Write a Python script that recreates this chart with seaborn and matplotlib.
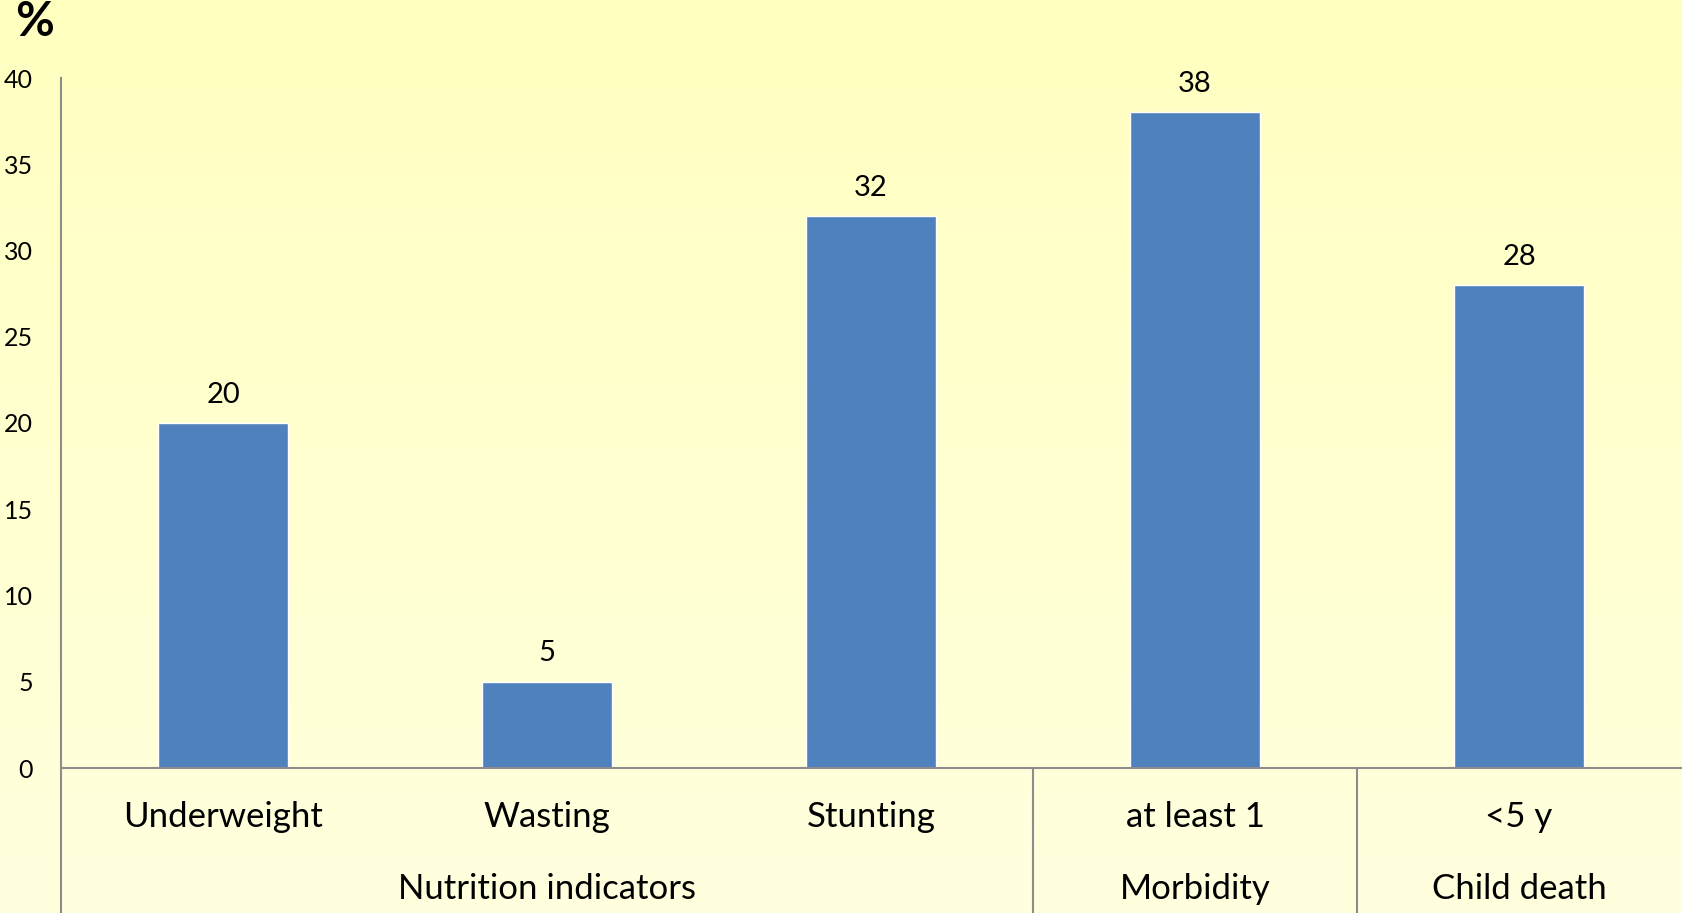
import numpy as np
import pandas as pd
import matplotlib
matplotlib.use("Agg")
import matplotlib.pyplot as plt
import seaborn as sns
from matplotlib.colors import LinearSegmentedColormap

# Survey results (%)
categories = ["Underweight", "Wasting", "Stunting", "at least 1", "<5 y"]
values = [20, 5, 32, 38, 28]
groups = ["Nutrition indicators", "Nutrition indicators", "Nutrition indicators",
          "Morbidity", "Child death"]
group_names = ["Nutrition indicators", "Morbidity", "Child death"]
y_ticks = [0, 5, 10, 15, 20, 25, 30, 35, 40]

df = pd.DataFrame({"category": categories, "value": values, "group": groups})

sns.set_theme(style="white")
plt.rcParams["font.family"] = ["Lato", "DejaVu Sans"]

fig = plt.figure(figsize=(16.82, 9.13), dpi=100)

# pale yellow vertical gradient behind everything
bg = fig.add_axes([0, 0, 1, 1], zorder=-10)
cmap = LinearSegmentedColormap.from_list("bg", ["#FFFFC0", "#FFFFDF"])
bg.imshow(np.linspace(0, 1, 256).reshape(-1, 1), aspect="auto", cmap=cmap,
          extent=[0, 1, 0, 1], origin="upper")
bg.set_axis_off()

ax = fig.add_axes([61 / 1682, 1 - 768 / 913, 1620 / 1682, (768 - 78) / 913])
ax.set_facecolor("none")

sns.barplot(data=df, x="category", y="value", color="#4F81BD", width=0.4,
            saturation=1, ax=ax)

ax.set_ylim(0, 40)
ax.set_xlim(-0.5, len(categories) - 0.5)
ax.set_yticks(y_ticks)
ax.set_yticklabels([str(t) for t in y_ticks], fontsize=18, color="black")
ax.tick_params(axis="y", length=0, pad=20)
ax.tick_params(axis="x", length=0, pad=24, labelsize=25, labelcolor="black")
ax.set_xlabel("")
ax.set_ylabel("")

for side in ["top", "right"]:
    ax.spines[side].set_visible(False)
for side in ["left", "bottom"]:
    ax.spines[side].set_color("#8C8C8C")
    ax.spines[side].set_linewidth(1.5)

# value labels above bars
for c in ax.containers:
    ax.bar_label(c, labels=[str(v) for v in values], padding=11, fontsize=21,
                 color="black")

# group separators and left axis extension below the baseline
trans = ax.get_xaxis_transform()
ymin_ax = -(913 - 768) / (768 - 78)
seps = [-0.5]
idx = 0
for g in group_names:
    n = groups.count(g)
    if idx > 0:
        seps.append(idx - 0.5)
    center = idx + (n - 1) / 2
    ax.text(center, -0.175, g, transform=trans, ha="center", va="center",
            fontsize=25, color="black")
    idx += n
for s in seps:
    ax.plot([s, s], [0, ymin_ax], transform=trans, color="#8C8C8C",
            lw=1.5, clip_on=False)

fig.text(35 / 1682, 1 - 22 / 913, "%", ha="center", va="center",
         fontsize=34, fontweight="bold", color="black")

fig.savefig("out.png", dpi=100)
